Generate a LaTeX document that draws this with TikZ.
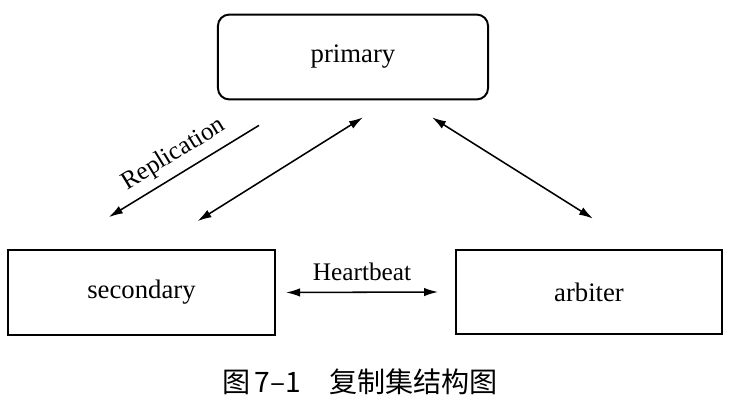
\documentclass[tikz,border=0pt]{standalone}
\usepackage{fontspec}
\setmainfont{Liberation Serif}
\newfontfamily\cjk{Noto Sans CJK SC}
\usetikzlibrary{arrows.meta,positioning}

\begin{document}
\begin{tikzpicture}[x=0.025cm,y=0.025cm,>={Latex[length=10pt,width=6pt]},
  box/.style={draw,line width=1.4pt,minimum height=2.12cm,font=\fontsize{19}{22}\selectfont},
  link/.style={line width=1.1pt},
  lbl/.style={font=\fontsize{18}{21}\selectfont}]
  \useasboundingbox (0,0) rectangle (744,406);
  % boxes
  \node[box,rounded corners=8pt,minimum width=6.75cm] (primary) at (353,349) {primary};
  \node[box,minimum width=6.68cm] (secondary) at (141.5,113.5) {secondary};
  \node[box,minimum width=6.65cm] (arbiter) at (589,114) {arbiter};
  % links
  \draw[link,->] ([shift={(42,-25)}]primary.south west) --
    node[lbl,midway,above=2pt,sloped] {Replication} ([shift={(102,32)}]secondary.north west);
  \draw[link,<->] ([shift={(10,-17)}]primary.south) -- ([shift={(56,28)}]secondary.north);
  \draw[link,<->] ([shift={(79,-17)}]primary.south) -- ([shift={(4,30)}]arbiter.north);
  \draw[link,<->] ([xshift=7]secondary.east) --
    node[lbl,midway,above=4pt] {Heartbeat} ([xshift=-12]arbiter.west);
  % caption
  \node[font=\cjk\fontsize{20}{24}\selectfont] (caption) at (360,24) {图\,7–1\quad 复制集结构图};
\end{tikzpicture}
\end{document}
